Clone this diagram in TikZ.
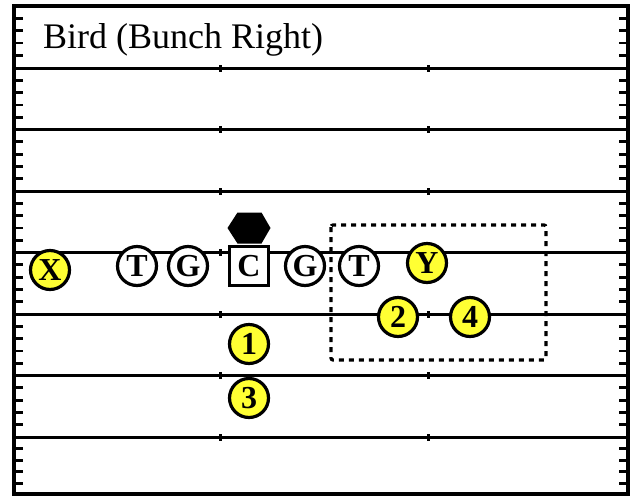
\documentclass[tikz,border=0pt]{standalone}
\usepackage{fontspec}
\setmainfont{Liberation Serif}
\definecolor{pyellow}{RGB}{255,255,51}
\begin{document}
\begin{tikzpicture}[x=1pt,y=-1pt,
  fieldline/.style={line width=3pt},
  player/.style={circle,draw,line width=3.2pt,minimum size=39pt,inner sep=0pt,
    font=\fontsize{32}{32}\selectfont\bfseries},
  offp/.style={player,fill=pyellow},
  olp/.style={player,fill=white},
  centerbox/.style={rectangle,draw,line width=3.2pt,minimum size=39pt,inner sep=0pt,fill=white,
    font=\fontsize{32}{32}\selectfont\bfseries},
  zone/.style={draw,line width=3.2pt,dash pattern=on 5pt off 5pt,rounded corners=2pt}]
\useasboundingbox (0,0) rectangle (634,496);
% field
\foreach \y in {68,129.5,191,252.5,314,375.5,437}{
  \draw[fieldline] (14,\y) -- (628,\y);
  \fill (218.5,\y-3.5) rectangle (221.5,\y+3.5);
  \fill (426.5,\y-3.5) rectangle (429.5,\y+3.5);
}
\foreach \b in {6,68,129.5,191,252.5,314,375.5}{
  \foreach \k in {1,2,3,4}{
    \draw[line width=2.8pt] (14,\b+\k*12.3) -- (23,\b+\k*12.3);
    \draw[line width=2.8pt] (628,\b+\k*12.3) -- (619,\b+\k*12.3);
  }
}
\foreach \k in {1,2,3,4}{
  \draw[line width=2.8pt] (14,437+\k*11.6) -- (23,437+\k*11.6);
  \draw[line width=2.8pt] (628,437+\k*11.6) -- (619,437+\k*11.6);
}
\draw[line width=3.4pt] (14,6) rectangle (628,494);
% title
\node[anchor=base west,inner sep=0pt,font=\fontsize{36}{36}\selectfont] (title) at (43,48) {Bird (Bunch Right)};
% zone
\draw[zone] (331,225) rectangle (546,360);
% QB marker
\fill (227.5,228) -- (237.5,212.5) -- (261.5,212.5) -- (270.5,228) -- (261.5,243.5) -- (237.5,243.5) -- cycle;
% line
\node[offp] (X) at (50,270) {X};
\node[olp] (LT) at (137,266) {T};
\node[olp] (LG) at (188,266) {G};
\node[centerbox] (C) at (249,266) {C};
\node[olp] (RG) at (305,266) {G};
\node[olp] (RT) at (359,266) {T};
\node[offp] (Y) at (427,263) {Y};
\node[offp] (two) at (398,317) {2};
\node[offp] (four) at (470,317) {4};
\node[offp] (one) at (249,344) {1};
\node[offp] (three) at (249,398) {3};
\end{tikzpicture}
\end{document}
